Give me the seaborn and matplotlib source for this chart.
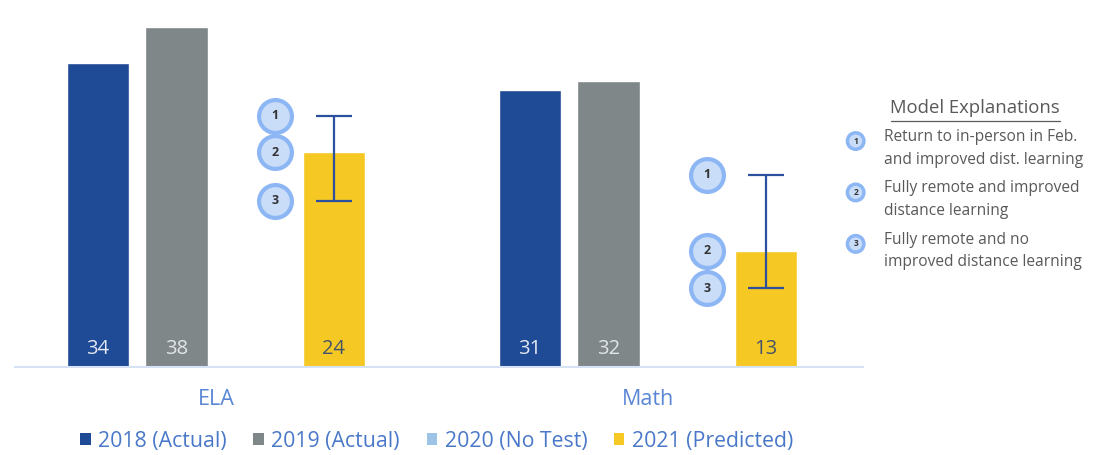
import matplotlib
matplotlib.use("Agg")
import matplotlib.pyplot as plt
from matplotlib.lines import Line2D
from matplotlib.patches import Patch
import numpy as np
import pandas as pd
import seaborn as sns

# ── data ─────────────────────────────────────────────────────
subjects = ["ELA", "Math"]
years = ["2018 (Actual)", "2019 (Actual)", "2020 (No Test)", "2021 (Predicted)"]
score_2018 = [34, 31]
score_2019 = [38, 32]
score_2020 = [np.nan, np.nan]          # no test in 2020
score_2021 = [24, 13]                  # model 2 (central prediction)
pred_model1 = [28.1, 21.5]             # return to in-person
pred_model3 = [18.6, 8.8]              # fully remote, no improvement
model_notes = [
    "Return to in-person in Feb.\nand improved dist. learning",
    "Fully remote and improved\ndistance learning",
    "Fully remote and no\nimproved distance learning",
]

colors = ["#1F4A96", "#7F8789", "#9DC3E6", "#F5C824"]
label_colors = ["#E3E8F2", "#E3E6E8", "#E3E8F2", "#44546A"]

df = pd.DataFrame({
    "subject": subjects * 4,
    "year": np.repeat(years, len(subjects)),
    "score": score_2018 + score_2019 + score_2020 + score_2021,
})

sns.set_style("white")
plt.rcParams["font.family"] = ["Open Sans", "DejaVu Sans"]

fig = plt.figure(figsize=(10.97, 4.55), dpi=100)
ax = fig.add_axes([0.0137, 0.1934, 0.7730, 0.7866])

sns.barplot(data=df, x="subject", y="score", hue="year", hue_order=years,
            order=subjects, palette=colors, saturation=1, width=0.729, gap=0.21,
            legend=False, ax=ax, zorder=2)

ax.set_xlim(-0.465, 1.498)
ax.set_ylim(0, 40)
ax.set_yticks([])
ax.set_xlabel("")
ax.set_ylabel("")
for s in ["top", "right", "left"]:
    ax.spines[s].set_visible(False)
ax.spines["bottom"].set_color("#D6E2F5")
ax.spines["bottom"].set_linewidth(1.5)
ax.tick_params(axis="x", length=0, pad=16, labelsize=15.5, labelcolor="#5A86D6")

# ── value labels at the bottom of each bar ───────────────────
slot = 0.729 / len(years)
for j, (vals, lc) in enumerate(zip([score_2018, score_2019, score_2020, score_2021],
                                   label_colors)):
    for i, v in enumerate(vals):
        if np.isnan(v):
            continue
        x = i + (j - 1.5) * slot
        ax.text(x, 2.0, f"{v:.0f}", ha="center", va="center",
                fontsize=14.5, color=lc, zorder=4)

# ── error bars + model markers on the predicted bars ─────────
x21 = np.arange(len(subjects)) + 1.5 * slot
mid = np.array(score_2021, dtype=float)
lo = np.array(pred_model3)
hi = np.array(pred_model1)
ax.errorbar(x21, mid, yerr=[mid - lo, hi - mid], fmt="none", ecolor="#2C4F9E",
            elinewidth=1.6, capsize=13, capthick=1.6, zorder=5)

xc = x21 - 0.137
for k, yv in enumerate([hi, mid, lo]):
    ax.scatter(xc, yv, s=560, facecolor="#C9DDF8", edgecolor="#8CB6F4",
               linewidth=3, zorder=6, clip_on=False)
    for x, y in zip(xc, yv):
        ax.text(x, y, str(k + 1), ha="center", va="center", fontsize=9,
                color="#333333", fontweight="bold", zorder=7)

# ── legend along the bottom ──────────────────────────────────
handles = [Patch(facecolor=c, edgecolor="none") for c in colors]
leg = fig.legend(handles, years, loc="center", bbox_to_anchor=(0.398, 0.030),
                 ncol=4, frameon=False, fontsize=15.3, handlelength=0.5,
                 handleheight=0.5, handletextpad=0.35, columnspacing=1.25)
for t in leg.get_texts():
    t.set_color("#4A78C8")

# ── model explanations panel ─────────────────────────────────
fig.text(0.889, 0.762, "Model Explanations", ha="center", va="center",
         fontsize=13.3, color="#595959")
fig.add_artist(Line2D([0.812, 0.966], [0.734, 0.734], color="#595959", lw=0.9))
note_y = [0.674, 0.561, 0.448]
for k, (note, y) in enumerate(zip(model_notes, note_y)):
    fig.text(0.780, y + 0.016, str(k + 1), ha="center", va="center", fontsize=6,
             color="#333333", fontweight="bold",
             bbox=dict(boxstyle="circle,pad=0.45", facecolor="#C9DDF8",
                       edgecolor="#8CB6F4", linewidth=2.5))
    fig.text(0.806, y, note, ha="left", va="center", fontsize=11.2,
             color="#595959", linespacing=1.55)

fig.savefig("out.png", dpi=100)
